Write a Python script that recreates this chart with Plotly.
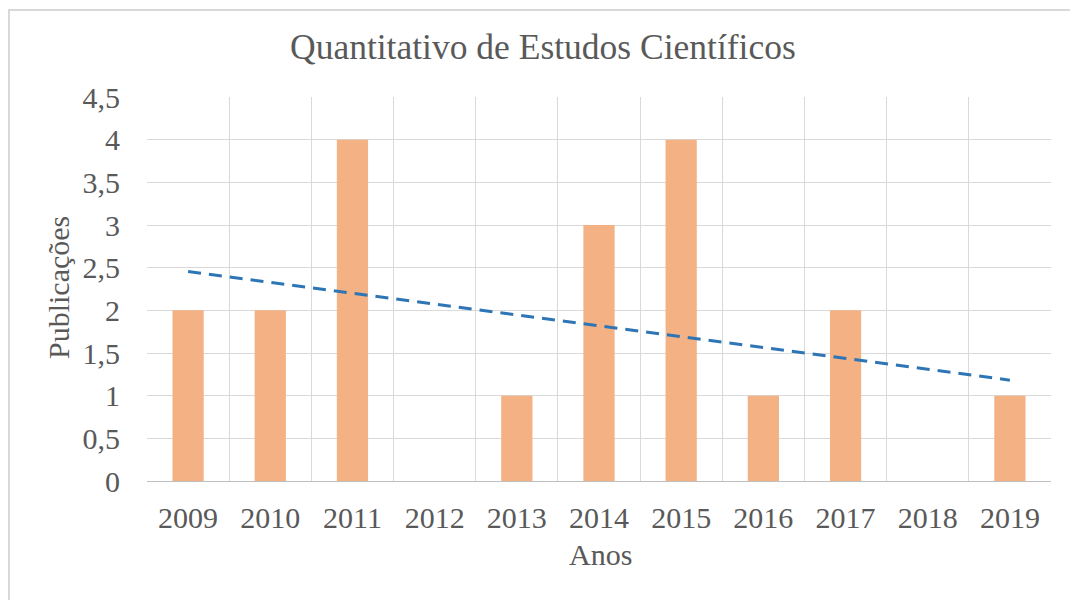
import numpy as np
import plotly.graph_objects as go

anos = ["2009", "2010", "2011", "2012", "2013", "2014", "2015", "2016", "2017", "2018", "2019"]
publicacoes = [2, 2, 4, 0, 1, 3, 4, 1, 2, 0, 1]
y_ticks = [0, 0.5, 1, 1.5, 2, 2.5, 3, 3.5, 4, 4.5]
y_tick_labels = ["0", "0,5", "1", "1,5", "2", "2,5", "3", "3,5", "4", "4,5"]
titulo = "Quantitativo de Estudos Científicos"
titulo_x = "Anos"
titulo_y = "Publicações"

idx = np.arange(len(anos))
slope, intercept = np.polyfit(idx, publicacoes, 1)
trend = slope * idx + intercept

FONT = "Liberation Serif"
GRAY = "#595959"
GRID = "#d9d9d9"

L, R, T, B = 147, 19, 97, 119
W, H = 1070, 600
pw, ph = W - L - R, H - T - B

def px(xp):
    return (xp - L) / pw

def py(yp):
    return (H - B - yp) / ph

fig = go.Figure()
fig.add_trace(go.Bar(
    x=idx, y=publicacoes, marker=dict(color="#F4B183", line=dict(width=0)),
    width=0.38, showlegend=False, hoverinfo="skip",
))
fig.add_trace(go.Scatter(
    x=idx, y=trend, mode="lines",
    line=dict(color="#2E75B6", width=3, dash="13px,8px"), showlegend=False,
    hoverinfo="skip",
))

fig.update_layout(
    width=W, height=H,
    margin=dict(l=L, r=R, t=T, b=B, pad=0),
    paper_bgcolor="white", plot_bgcolor="white",
    font=dict(family=FONT, color=GRAY, size=30),
    xaxis=dict(
        range=[-0.5, len(anos) - 0.5],
        tickmode="array", tickvals=list(idx), ticktext=anos,
        showgrid=False, zeroline=False,
        showline=True, linecolor="#bfbfbf", linewidth=1,
        ticks="", ticklabelstandoff=10,
        tickfont=dict(family=FONT, color=GRAY, size=30),
        minor=dict(tickmode="array", tickvals=[i - 0.5 for i in range(len(anos) + 1)],
                   showgrid=True, gridcolor=GRID, gridwidth=1, ticks=""),
    ),
    yaxis=dict(
        range=[0, 4.5],
        tickmode="array", tickvals=y_ticks, ticktext=y_tick_labels,
        showgrid=True, gridcolor=GRID, gridwidth=1,
        zeroline=False, showline=False, ticks="",
        ticklabelstandoff=26,
        tickfont=dict(family=FONT, color=GRAY, size=30),
    ),
    annotations=[
        dict(text=titulo, xref="paper", yref="paper", x=px(543), y=py(47),
             xanchor="center", yanchor="middle", showarrow=False,
             font=dict(family=FONT, color=GRAY, size=35.5)),
        dict(text=titulo_x, xref="paper", yref="paper", x=px(600), y=py(554),
             xanchor="center", yanchor="middle", showarrow=False,
             font=dict(family=FONT, color=GRAY, size=30)),
        dict(text=titulo_y, xref="paper", yref="paper", x=px(58), y=py(288),
             xanchor="center", yanchor="middle", showarrow=False, textangle=-90,
             font=dict(family=FONT, color=GRAY, size=30)),
    ],
    shapes=[
        dict(type="rect", xref="paper", yref="paper",
             x0=px(9), x1=px(1080), y0=py(610), y1=py(10),
             line=dict(color="#d9d9d9", width=2), layer="below"),
    ],
)

fig.write_html(
    "out.html",
    config={"displayModeBar": False},
    post_script="document.body.style.margin='0';document.body.style.overflow='hidden';",
)
